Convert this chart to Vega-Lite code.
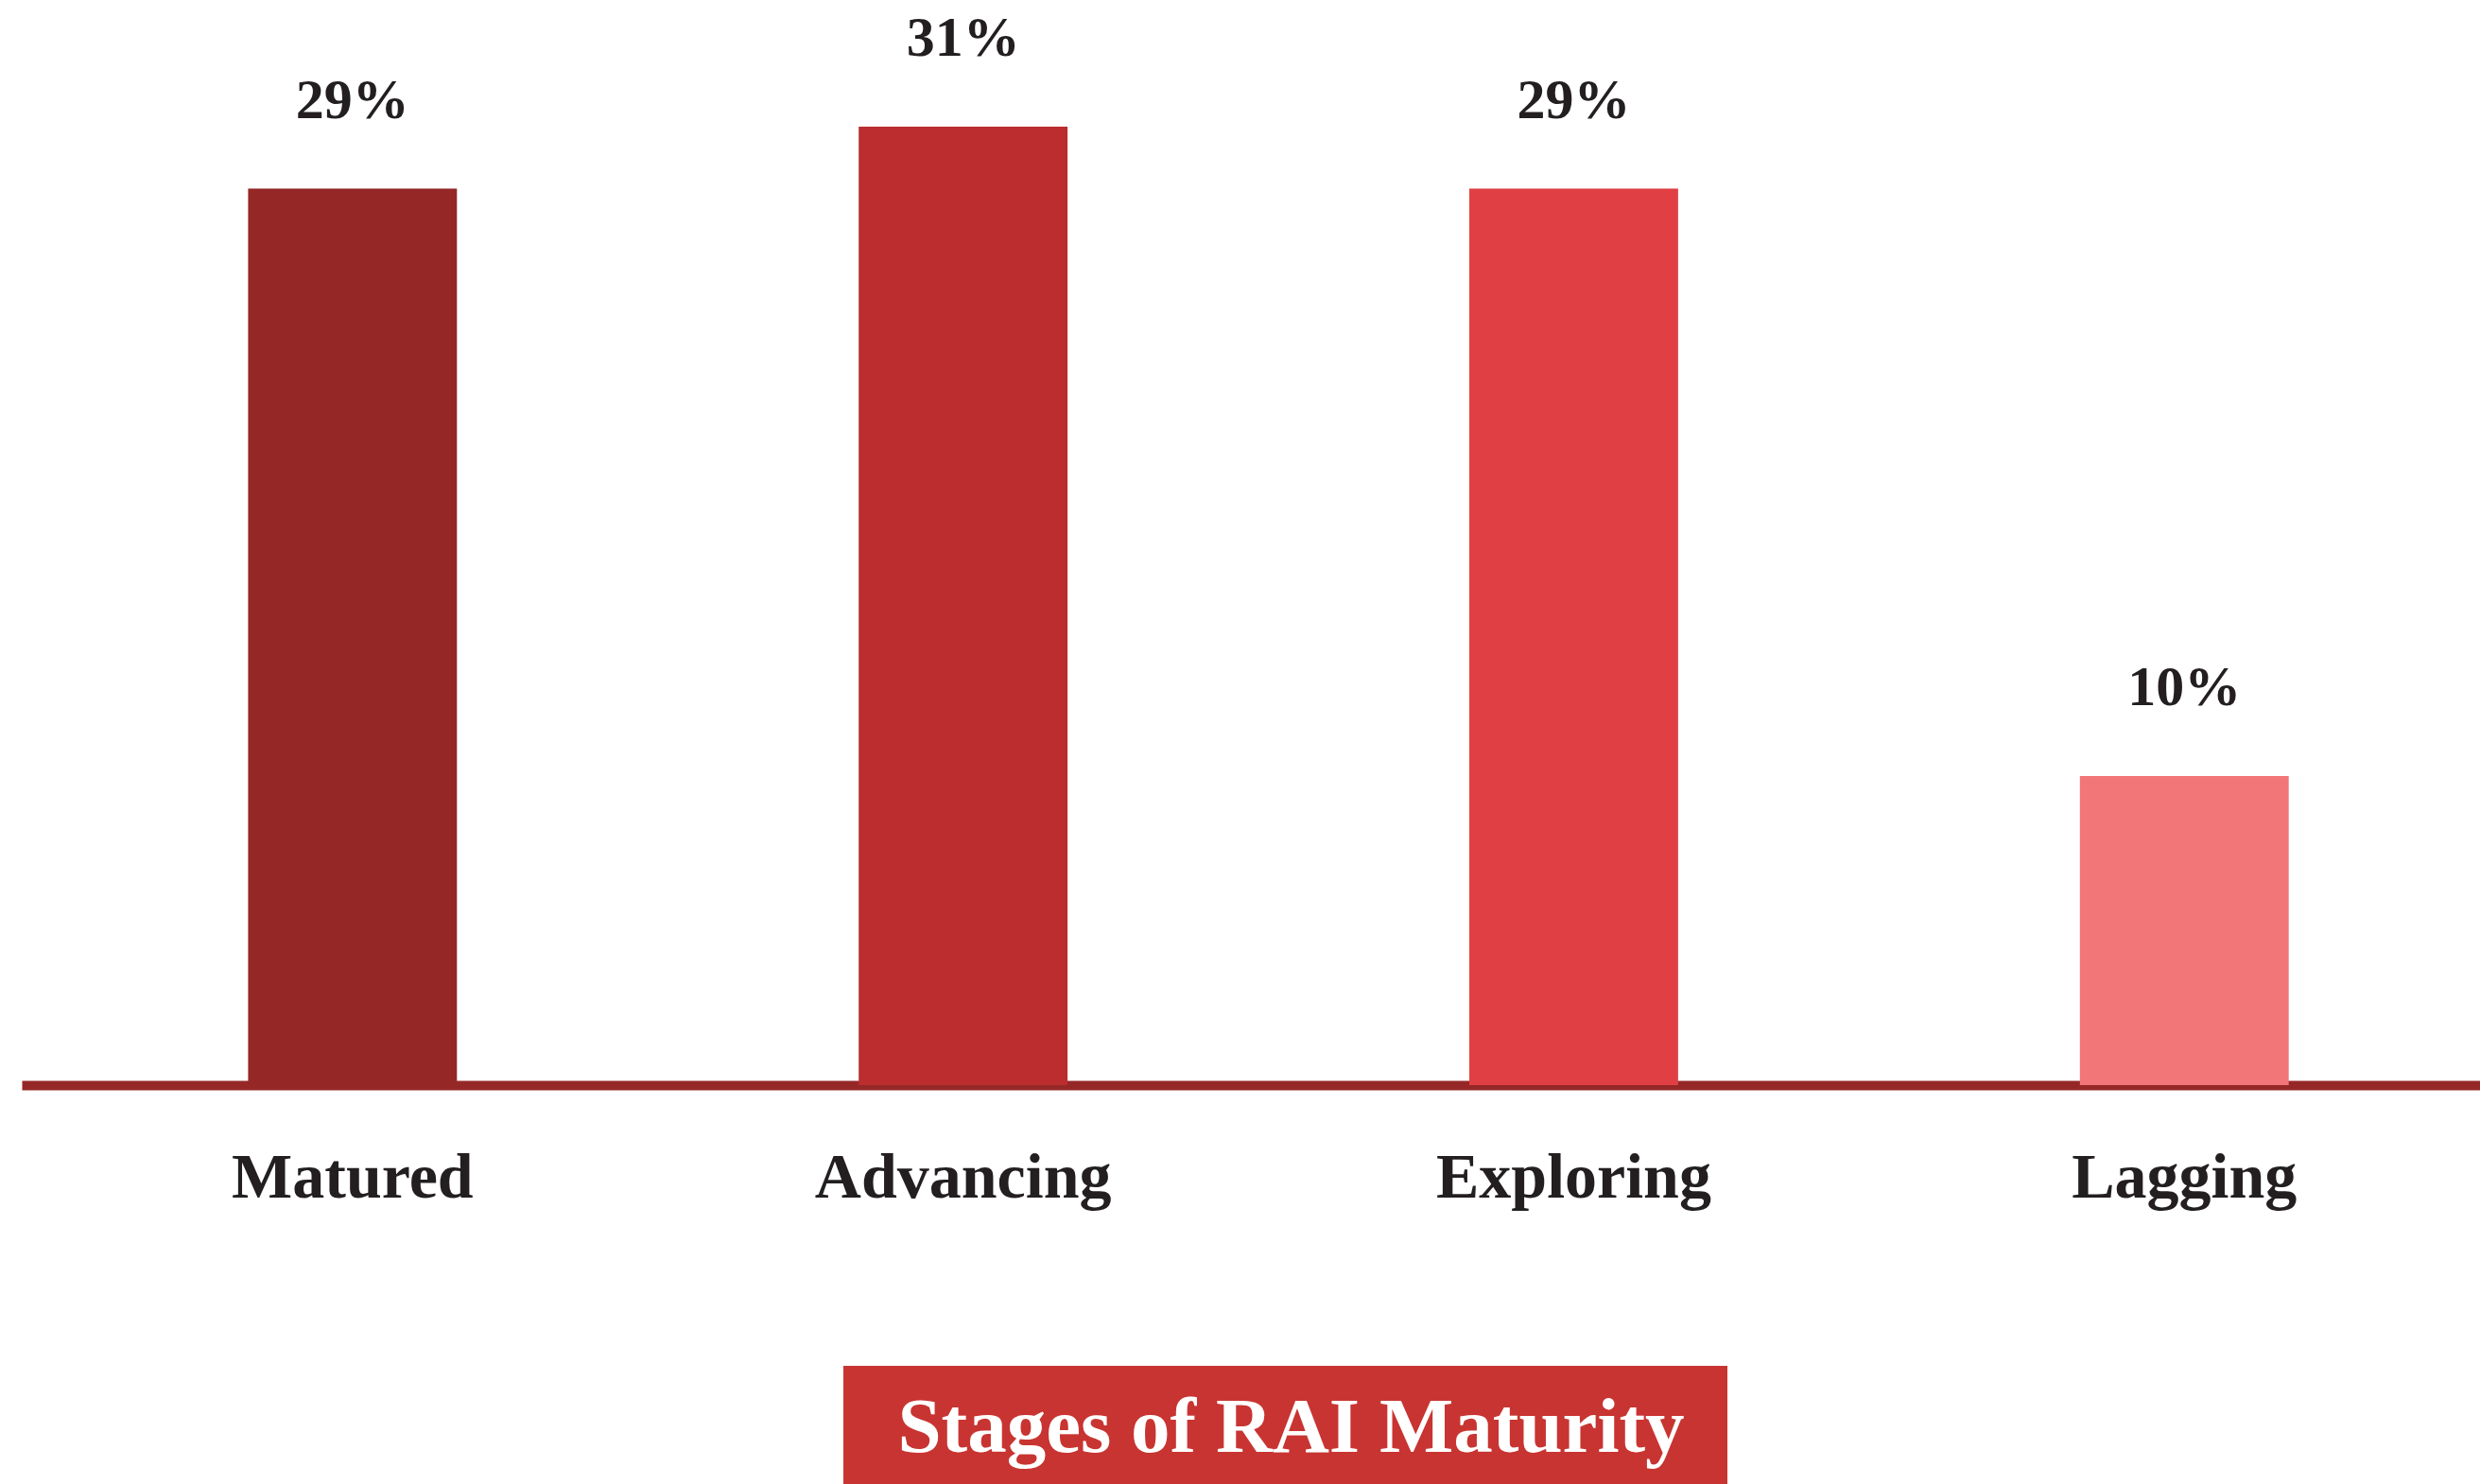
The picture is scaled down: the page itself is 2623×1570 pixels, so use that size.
{
  "$schema": "https://vega.github.io/schema/vega-lite/v6.json",
  "padding": {"left": 23, "top": 0, "right": 0, "bottom": 0},
  "autosize": {"type": "pad"},
  "background": "white",
  "config": {"view": {"stroke": null}, "font": "Liberation Serif"},
  "vconcat": [
    {
      "width": 2600,
      "height": 1148,
      "data": {"values": [
        {"stage": "Matured", "pct": 29, "label": "29%"},
        {"stage": "Advancing", "pct": 31, "label": "31%"},
        {"stage": "Exploring", "pct": 29, "label": "29%"},
        {"stage": "Lagging", "pct": 10, "label": "10%"}
      ]},
      "encoding": {
        "x": {
          "field": "stage", "type": "nominal", "sort": null,
          "scale": {"paddingInner": 0.658, "paddingOuter": 0.342, "align": 0.542},
          "axis": {
            "title": null, "ticks": false, "tickSize": 0,
            "domainColor": "#962727", "domainWidth": 10,
            "labelAngle": 0, "labelFont": "Liberation Serif", "labelFontWeight": "bold",
            "labelFontSize": 68, "labelColor": "#231f20", "labelLimit": 0,
            "labelBaseline": "alphabetic", "labelPadding": 118
          }
        },
        "y": {
          "field": "pct", "type": "quantitative",
          "scale": {"domain": [0, 35.1], "nice": false, "zero": true},
          "axis": null
        }
      },
      "layer": [
        {
          "mark": {"type": "bar"},
          "encoding": {
            "color": {
              "field": "stage", "type": "nominal",
              "scale": {"domain": ["Matured", "Advancing", "Exploring", "Lagging"],
                        "range": ["#962727", "#bb2d2f", "#e04044", "#f27577"]},
              "legend": null
            }
          }
        },
        {
          "mark": {"type": "text", "font": "Liberation Serif", "fontWeight": "bold",
                   "fontSize": 60, "color": "#231f20", "baseline": "alphabetic", "dy": -75},
          "encoding": {"text": {"field": "label", "type": "nominal"}}
        }
      ]
    },
    {
      "hconcat": [
        {
          "width": 869, "height": 125,
          "data": {"values": [{}]},
          "mark": {"type": "text"},
          "encoding": {"text": {"value": ""}}
        },
        {
          "width": 935, "height": 125,
          "view": {"fill": "#c83431", "stroke": null},
          "data": {"values": [{"title": "Stages of RAI Maturity"}]},
          "mark": {"type": "text", "font": "Liberation Serif", "fontWeight": "bold",
                   "fontSize": 83, "color": "white", "baseline": "middle", "align": "center", "dy": 3, "dx": 6},
          "encoding": {"text": {"field": "title", "type": "nominal"}}
        }
      ],
      "spacing": 0,
      "bounds": "flush"
    }
  ],
  "spacing": 297,
  "bounds": "flush"
}
